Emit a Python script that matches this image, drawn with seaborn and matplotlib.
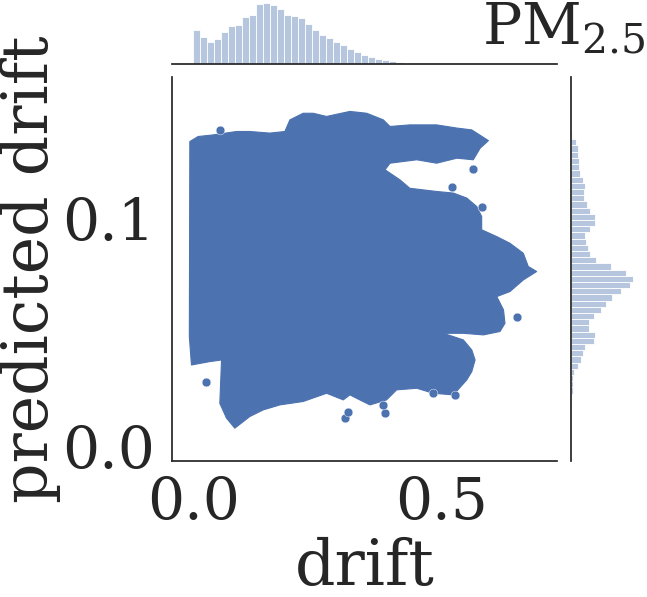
import matplotlib
matplotlib.use("Agg")
import numpy as np
import pandas as pd
import matplotlib.pyplot as plt
import seaborn as sns

# ---------------- data ----------------
# outer envelope of the dense scatter cloud (drift, predicted drift)
outline_x = [-0.008, 0.0087, 0.039, 0.0862, 0.113, 0.1535, 0.1838, 0.194, 0.2208, 0.241,
             0.268, 0.315, 0.349, 0.3825, 0.396, 0.436, 0.490, 0.531, 0.561, 0.5946,
             0.578, 0.564, 0.531, 0.490, 0.450, 0.396, 0.386, 0.416, 0.436, 0.490,
             0.524, 0.551, 0.571, 0.581, 0.581, 0.6115, 0.638, 0.665, 0.675, 0.692,
             0.665, 0.638, 0.6115, 0.625, 0.628, 0.618, 0.5845, 0.544, 0.5037, 0.544,
             0.561, 0.5677, 0.561, 0.551, 0.524, 0.4835, 0.450, 0.4094, 0.389, 0.3556,
             0.335, 0.315, 0.3017, 0.268, 0.2208, 0.1737, 0.140, 0.113, 0.0828, 0.066,
             0.0525, 0.056, 0.0323, -0.0047, -0.009]
outline_y = [0.1337, 0.1359, 0.1366, 0.1381, 0.1381, 0.1374, 0.1381, 0.1432, 0.1461, 0.1461,
             0.1447, 0.1469, 0.1461, 0.1432, 0.1403, 0.1410, 0.1410, 0.1396, 0.1388, 0.1341,
             0.1308, 0.1257, 0.1264, 0.1242, 0.1257, 0.1242, 0.1213, 0.1169, 0.1132, 0.1118,
             0.1111, 0.1089, 0.1052, 0.1008, 0.0950, 0.0920, 0.0891, 0.0847, 0.0789, 0.0767,
             0.0730, 0.0679, 0.0657, 0.0599, 0.0540, 0.0504, 0.0489, 0.0496, 0.0496, 0.0467,
             0.0423, 0.0379, 0.0328, 0.0292, 0.0226, 0.0233, 0.0255, 0.0248, 0.0204, 0.0182,
             0.0204, 0.0226, 0.0204, 0.0233, 0.0197, 0.0182, 0.0160, 0.0131, 0.0080, 0.0124,
             0.0189, 0.0379, 0.0372, 0.0357, 0.0482]
# isolated points around the cloud
outlier_x = [0.0525, 0.0256, 0.522, 0.564, 0.652, 0.305, 0.3117, 0.386, 0.382, 0.527, 0.4835, 0.581]
outlier_y = [0.1388, 0.0284, 0.1137, 0.1216, 0.0569, 0.0124, 0.0153, 0.0146, 0.0182, 0.0226, 0.0233, 0.1050]

# marginal histogram of drift (relative counts)
drift_bin_start = -0.0014
drift_bin_width = 0.01414
drift_counts = [34, 26.7, 21.7, 24.7, 31, 37.7, 38.7, 46.7, 48.7, 60, 60.7, 59, 54.7, 49,
                47.7, 45.7, 40, 34, 29, 26, 22, 19, 14.7, 12, 8.7, 6.7, 4.7, 3.7, 2.7, 1.7,
                1, 1, 0.7, 0.3]

# marginal histogram of predicted drift, listed from top bin to bottom bin
pred_bin_top = 0.1374
pred_bin_width = 0.00272
pred_counts_top_down = [1.3, 5.3, 7.3, 7.3, 8.3, 8.3, 9.3, 12.3, 14.3, 13.3, 13.3, 16.3, 19.3,
                        24.3, 24.3, 19.3, 14.3, 15.3, 17.3, 19.3, 25.3, 40.3, 55.3, 62.3, 59.3,
                        50.3, 41.3, 35.3, 30.3, 23.3, 18.3, 18.3, 24.3, 23.3, 14.3, 12.3, 10.3,
                        7.3, 3.3, 2.3, 2.3, 2.3, 1.3]

x_ticks = [0.0, 0.5]
y_ticks = [0.0, 0.1]
x_label = "drift"
y_label = "predicted drift"
title_text = r"$\mathrm{PM}_{2.5}$"

# ---------------- style ----------------
sns.set_theme(style="white")
plt.rcParams["font.family"] = ["DejaVu Serif"]
plt.rcParams["mathtext.fontset"] = "dejavuserif"
blue = sns.color_palette("deep")[0]
TICK_FS = 42
LABEL_FS = 45.5

W, H = 647, 597
g = sns.JointGrid(height=5.97, ratio=5, space=0.1)
fig = g.figure
fig.set_size_inches(W / 100, H / 100)

def box(l, t, r, b):
    return [l / W, 1 - b / H, (r - l) / W, (b - t) / H]

g.ax_joint.set_position(box(172, 77, 557, 461))
g.ax_marg_x.set_position(box(172, 0, 557, 63.5))
g.ax_marg_y.set_position(box(571, 77, 636.5, 461))

ax = g.ax_joint
ax.fill(outline_x, outline_y, color=blue, lw=0.8, edgecolor=blue, joinstyle="round")
sns.scatterplot(x=outlier_x, y=outlier_y, ax=ax, color=blue, s=40,
                edgecolor="white", linewidth=0.3)

n_dx = len(drift_counts)
dx_edges = [drift_bin_start + i * drift_bin_width for i in range(n_dx + 1)]
dx_centers = [drift_bin_start + (i + 0.5) * drift_bin_width for i in range(n_dx)]
sns.histplot(x=dx_centers, weights=drift_counts, bins=dx_edges, ax=g.ax_marg_x,
             color=blue, alpha=0.4, edgecolor="white", linewidth=0.6)

n_py = len(pred_counts_top_down)
py_edges = [pred_bin_top - (n_py - i) * pred_bin_width for i in range(n_py + 1)]
py_centers = [pred_bin_top - (n_py - i - 0.5) * pred_bin_width for i in range(n_py)]
pred_counts = pred_counts_top_down[::-1]
sns.histplot(y=py_centers, weights=pred_counts, bins=py_edges, ax=g.ax_marg_y,
             color=blue, alpha=0.4, edgecolor="white", linewidth=0.6)

ax.set_xlim(-0.044, 0.733)
ax.set_ylim(-0.0064, 0.162)
g.ax_marg_x.set_ylim(0, 63.5)
g.ax_marg_y.set_xlim(0, 65.5)
ax.set_xticks(x_ticks)
ax.set_yticks(y_ticks)
ax.tick_params(axis="both", labelsize=TICK_FS, length=0)
ax.tick_params(axis="x", pad=10)
ax.tick_params(axis="y", pad=12)
ax.set_xlabel(x_label, fontsize=LABEL_FS, labelpad=4)
ax.set_ylabel(y_label, fontsize=LABEL_FS, labelpad=1)
for a in (g.ax_marg_x, g.ax_marg_y):
    a.set_xlabel("")
    a.set_ylabel("")

fig.text(645 / W, 1 - 45 / H, title_text, ha="right", va="baseline",
         fontsize=TICK_FS, color=".15")

fig.savefig("out.png", dpi=100)
